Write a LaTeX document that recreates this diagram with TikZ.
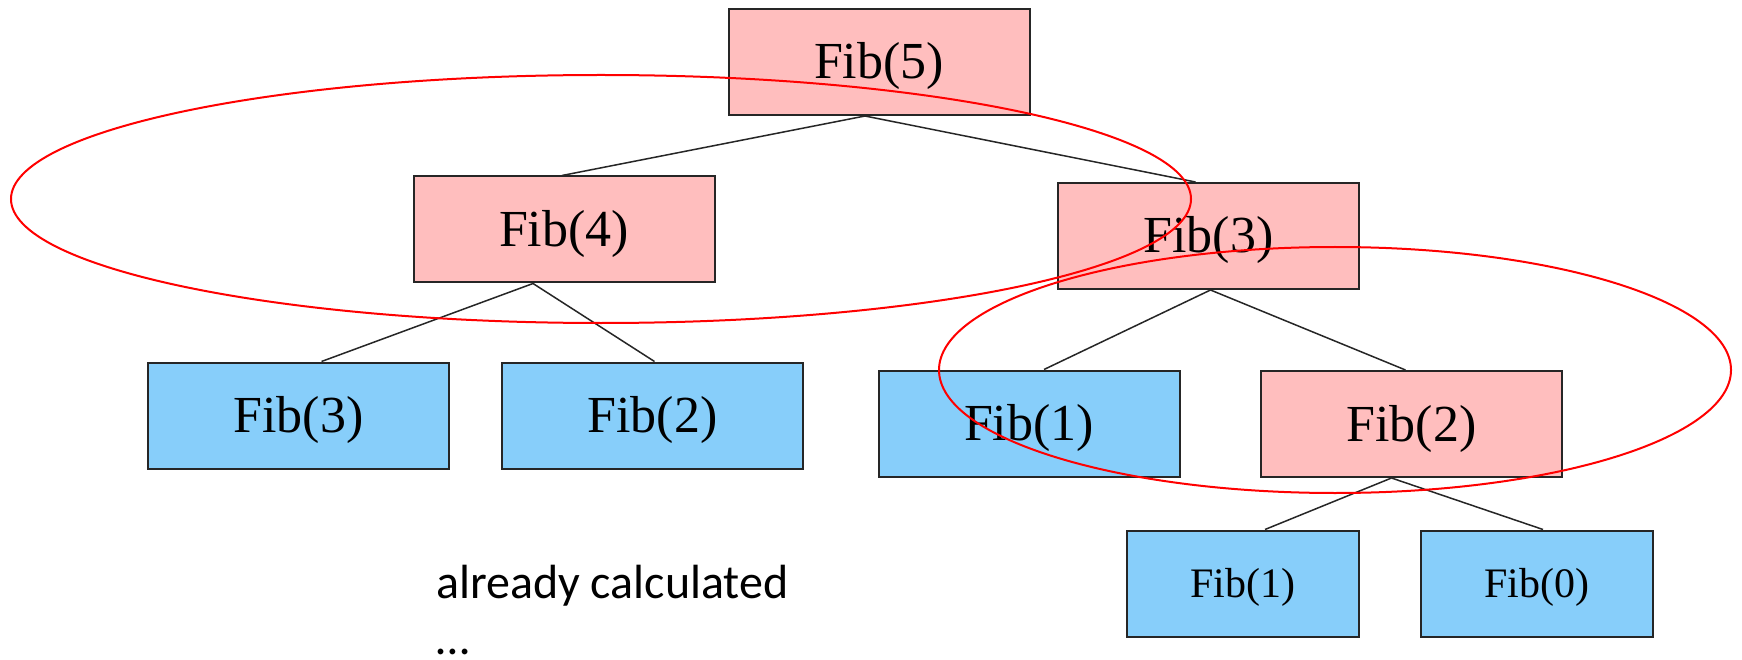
\documentclass[tikz,border=0pt]{standalone}
\usepackage{fontspec}
\setmainfont{Liberation Serif}
\newfontfamily\notefont{Carlito}
\definecolor{rose}{RGB}{255,190,190}
\definecolor{bleu}{RGB}{135,206,250}

\begin{document}
\begin{tikzpicture}[
    x=1pt, y=-1pt,
    bloc/.style={draw=black!85, line width=2pt, inner sep=0pt,
      minimum width=301pt, minimum height=106pt,
      font=\fontsize{52}{60}\selectfont, text height=34pt, text depth=0pt},
    petit/.style={bloc, minimum width=232pt,
      font=\fontsize{42}{48}\selectfont, text height=28pt},
    afaire/.style={fill=rose},
    connu/.style={fill=bleu},
    lien/.style={line width=1.5pt, black!85},
    cercle/.style={red, line width=2pt},
    note/.style={font=\notefont\fontsize{48}{56}\selectfont, inner sep=0pt,
      text depth=0pt, anchor=base west},
  ]
  \useasboundingbox[fill=white] (0,0) rectangle (1742,660);

  % --- Arbre des appels ---
  \node[bloc, afaire] (f5) at (879,62) {Fib(5)};
  \node[bloc, afaire] (f4) at (564,229.5) {Fib(4)};
  \node[bloc, afaire] (f3) at (1208.5,236) {Fib(3)};
  \node[bloc, connu] (f3b) at (298.5,415.5) {Fib(3)};
  \node[bloc, connu] (f2b) at (652.5,415.5) {Fib(2)};
  \node[bloc, connu] (f1b) at (1029,423.5) {Fib(1)};
  \node[bloc, afaire] (f2) at (1411.5,424) {Fib(2)};
  \node[petit, connu] (f1s) at (1243,583.5) {Fib(1)};
  \node[petit, connu] (f0s) at (1537,583.5) {Fib(0)};

  % Liaisons
  \draw[lien] ([xshift=-14pt]f5.south) -- ([xshift=-2pt]f4.north);
  \draw[lien] ([xshift=-14pt]f5.south) -- ([xshift=-13pt]f3.north);
  \draw[lien] ([xshift=-31pt]f4.south) -- ([xshift=23pt]f3b.north);
  \draw[lien] ([xshift=-31pt]f4.south) -- ([xshift=2pt]f2b.north);
  \draw[lien] ([xshift=2pt]f3.south) -- ([xshift=15pt]f1b.north);
  \draw[lien] ([xshift=2pt]f3.south) -- ([xshift=-6pt]f2.north);
  \draw[lien] ([xshift=-20pt]f2.south) -- ([xshift=22pt]f1s.north);
  \draw[lien] ([xshift=-20pt]f2.south) -- ([xshift=6pt]f0s.north);

  % Texte
  \node[note] (deja) at (436,598) {already calculated};
  \node[note] (suite) at (436,654) {…};

  % Cercles
  \draw[cercle] (601,199) ellipse [x radius=590pt, y radius=124pt];
  \draw[cercle] (1335,370) ellipse [x radius=396pt, y radius=123pt];
\end{tikzpicture}
\end{document}
